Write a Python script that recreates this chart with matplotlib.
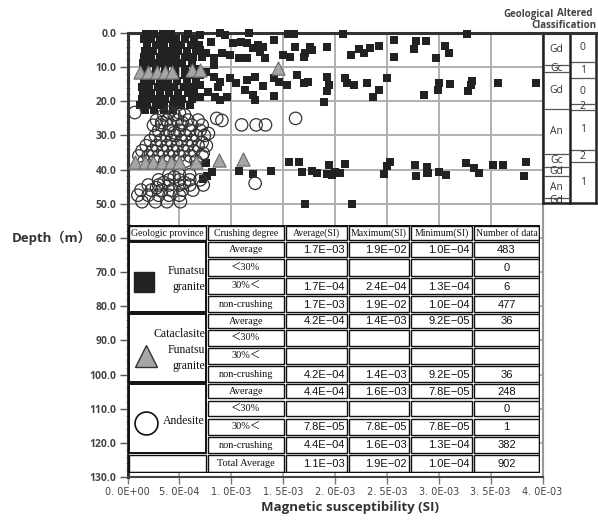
import numpy as np
import matplotlib.pyplot as plt
from matplotlib.patches import Rectangle
from matplotlib.ticker import MultipleLocator

# ---- scatter data (x in 1e-3 SI, depth in m) ----
granite = [
    # dense block near the surface
    (0.18, 0.3), (0.26, 0.3), (0.34, 0.3), (0.42, 0.3), (0.58, 0.3),
    (0.16, 1.8), (0.23, 1.8), (0.31, 1.8), (0.39, 1.8), (0.47, 1.8), (0.55, 1.8), (0.64, 1.8),
    (0.19, 3.5), (0.27, 3.5), (0.35, 3.5), (0.44, 3.5), (0.52, 3.5), (0.61, 3.5), (0.69, 3.5),
    (0.17, 5.2), (0.25, 5.2), (0.33, 5.2), (0.41, 5.2), (0.49, 5.2), (0.57, 5.2), (0.66, 5.2),
    (0.16, 7.0), (0.23, 7.0), (0.31, 7.0), (0.39, 7.0), (0.47, 7.0), (0.55, 7.0), (0.63, 7.0), (0.72, 7.0),
    (0.15, 8.8), (0.22, 8.8), (0.29, 8.8), (0.37, 8.8), (0.45, 8.8), (0.53, 8.8), (0.62, 8.8),
    (0.18, 10.5), (0.27, 10.5), (0.36, 10.5), (0.46, 10.5), (0.55, 10.5), (0.66, 10.5),
    (0.14, 12.3), (0.21, 12.3), (0.29, 12.3), (0.37, 12.3), (0.46, 12.3), (0.55, 12.3), (0.63, 12.3), (0.70, 12.3),
    (0.16, 14.0), (0.23, 14.0), (0.31, 14.0), (0.39, 14.0), (0.48, 14.0), (0.57, 14.0), (0.66, 14.0),
    (0.14, 15.8), (0.21, 15.8), (0.29, 15.8), (0.37, 15.8), (0.45, 15.8), (0.54, 15.8), (0.62, 15.8),
    (0.15, 17.5), (0.23, 17.5), (0.31, 17.5), (0.40, 17.5), (0.49, 17.5), (0.58, 17.5), (0.64, 17.5),
    (0.14, 19.3), (0.21, 19.3), (0.28, 19.3), (0.36, 19.3), (0.45, 19.3), (0.53, 19.3), (0.62, 19.3),
    (0.12, 21.0), (0.19, 21.0), (0.27, 21.0), (0.35, 21.0), (0.44, 21.0), (0.52, 21.0), (0.60, 21.0),
    (0.17, 22.5), (0.26, 22.5), (0.35, 22.5), (0.44, 22.5),
    # upper scattered part
    (0.70, 0.6), (0.80, 2.5), (0.89, 0.1), (0.94, 0.6), (1.17, 0.1), (1.02, 3.0), (1.09, 2.5),
    (1.15, 3.0), (1.21, 4.5), (1.50, 6.4), (1.15, 7.4), (1.07, 7.4), (0.99, 6.4), (0.91, 5.9),
    (0.83, 7.4), (0.83, 9.4), (0.70, 5.0), (0.76, 5.9),
    (0.76, 11.3), (0.83, 12.8), (0.89, 14.3), (0.87, 15.8), (0.99, 13.3), (1.05, 14.7), (1.15, 13.8),
    (1.13, 16.7), (1.21, 18.2), (0.84, 18.7), (0.89, 19.6), (0.96, 18.7), (0.70, 15.2), (0.70, 18.7),
    (0.78, 17.2),
    (1.55, 0.3), (1.60, 0.3), (2.08, 0.3), (1.41, 2.0), (1.26, 3.5), (1.31, 4.0), (1.28, 5.5),
    (1.33, 7.4), (1.61, 4.0), (1.57, 6.9), (1.71, 5.9), (1.76, 4.0), (1.78, 5.0), (1.70, 6.9),
    (1.92, 4.0), (2.15, 6.4), (2.23, 4.7), (2.28, 5.9), (2.34, 4.5), (2.42, 3.7), (2.57, 2.0),
    (2.57, 6.9), (1.23, 12.8), (1.31, 15.5), (1.41, 13.3), (1.46, 14.3), (1.54, 15.2), (1.63, 12.3),
    (1.70, 14.7), (1.74, 14.3), (1.92, 12.8), (1.94, 15.2), (1.92, 17.0), (1.89, 20.1), (1.41, 18.4),
    (1.23, 19.6), (2.10, 13.3), (2.12, 14.7), (2.18, 15.2), (2.31, 14.7), (2.42, 16.7), (2.37, 18.7),
    (2.50, 13.3),
    (3.27, 0.3), (2.78, 2.3), (2.88, 2.3), (2.76, 4.7), (3.06, 3.7), (3.10, 5.9), (2.97, 7.4),
    (3.00, 14.7), (2.99, 16.7), (3.11, 15.0), (3.32, 14.1), (3.31, 15.2), (3.28, 17.0), (2.86, 18.2),
    (3.57, 14.5), (3.94, 14.5),
    # around 40 m
    (0.76, 38.2), (0.77, 41.8), (0.81, 40.8), (0.73, 42.8), (1.07, 40.4), (1.21, 41.4),
    (1.56, 37.7), (1.65, 37.9), (1.38, 40.4), (1.68, 40.6), (1.78, 40.3), (1.83, 41.1), (1.92, 41.3),
    (1.94, 38.7), (1.97, 41.6), (2.00, 40.6), (2.05, 41.1), (2.10, 38.4), (1.71, 50.0), (2.16, 50.0),
    (2.47, 41.3), (2.50, 38.9), (2.53, 37.9), (2.77, 38.7), (2.78, 41.8), (2.89, 39.1), (2.89, 41.1),
    (2.90, 41.1), (3.00, 40.6), (3.07, 41.6), (3.26, 38.2), (3.34, 39.6), (3.39, 40.9), (3.52, 38.7),
    (3.62, 38.7), (3.84, 37.7), (3.82, 41.8),
]

cataclasite = [
    (0.12, 11.3), (0.20, 11.3), (0.28, 11.3), (0.36, 11.3), (0.43, 11.3), (0.62, 10.8), (0.70, 10.8),
    (1.45, 10.2),
    (0.07, 37.7), (0.17, 37.7), (0.25, 37.7), (0.33, 37.7), (0.42, 37.7), (0.50, 37.7), (0.66, 37.7),
    (0.88, 37.2), (1.11, 36.8),
]

andesite = [
    (0.07, 23.3), (0.86, 25.0), (0.91, 25.6), (1.10, 26.9), (1.24, 26.9), (1.33, 26.9), (1.62, 25.0),
    (0.35, 24.0), (0.45, 24.0), (0.55, 24.0), (0.40, 23.2), (0.50, 23.4),
    (0.28, 25.5), (0.38, 25.5), (0.48, 25.5), (0.58, 25.5), (0.68, 25.5), (0.33, 26.2), (0.53, 26.3),
    (0.25, 27.0), (0.33, 27.0), (0.42, 27.0), (0.52, 27.0), (0.62, 27.0), (0.72, 27.0),
    (0.30, 28.5), (0.40, 28.5), (0.50, 28.5), (0.60, 28.5), (0.70, 28.5), (0.45, 29.2), (0.78, 29.4),
    (0.27, 30.0), (0.37, 30.0), (0.46, 30.0), (0.56, 30.0), (0.66, 30.0), (0.74, 30.0),
    (0.22, 31.5), (0.32, 31.5), (0.42, 31.5), (0.52, 31.5), (0.62, 31.5), (0.72, 32.0),
    (0.18, 33.0), (0.28, 33.0), (0.38, 33.0), (0.48, 33.0), (0.58, 33.0), (0.68, 33.0), (0.76, 33.0),
    (0.14, 34.5), (0.24, 34.5), (0.34, 34.5), (0.44, 34.5), (0.54, 34.5), (0.64, 34.5), (0.73, 35.2),
    (0.11, 36.0), (0.20, 36.0), (0.30, 36.0), (0.40, 36.0), (0.50, 36.0), (0.60, 36.0), (0.72, 36.0),
    (0.16, 37.5), (0.26, 37.5), (0.36, 37.5), (0.46, 37.5), (0.56, 37.5), (0.66, 37.5),
    (0.40, 41.5), (0.50, 41.5), (0.60, 41.5), (0.45, 42.2),
    (0.30, 43.0), (0.40, 43.0), (0.50, 43.0), (0.60, 43.0), (0.70, 43.0), (0.35, 43.8), (0.55, 43.8),
    (0.20, 44.5), (0.30, 44.5), (0.40, 44.5), (0.50, 44.5), (0.60, 44.5), (0.73, 44.5), (1.23, 44.0),
    (0.13, 46.0), (0.23, 46.0), (0.33, 46.0), (0.43, 46.0), (0.53, 46.0), (0.63, 46.0), (0.28, 45.3),
    (0.10, 47.5), (0.20, 47.5), (0.30, 47.5), (0.40, 47.5), (0.50, 47.5),
    (0.14, 49.4), (0.27, 49.4), (0.38, 49.4), (0.51, 49.4),
]

x_ticks = [0.0, 0.5e-3, 1.0e-3, 1.5e-3, 2.0e-3, 2.5e-3, 3.0e-3, 3.5e-3, 4.0e-3]
x_labels = ['0. 0E+00', '5. 0E-04', '1. 0E-03', '1. 5E-03', '2. 0E-03',
            '2. 5E-03', '3. 0E-03', '3. 5E-03', '4. 0E-03']
y_ticks = list(range(0, 131, 10))

# ---- classification panel ----
geo_bounds = [0, 9.4, 11.3, 22.3, 35.5, 39.1, 41.9, 48.4, 49.9]
geo_labels = ['Gd', 'Gc', 'Gd', 'An', 'Gc', 'Gd', 'An', 'Gd']
alt_bounds = [0, 8.5, 13.2, 20.8, 22.5, 34.3, 37.8, 49.9]
alt_labels = ['0', '1', '0', '2', '1', '2', '1']

# ---- table ----
provinces = ['Funatsu\ngranite', 'Cataclasite\nFunatsu\ngranite', 'Andesite']
crushing = ['Average', '\uff1c30%', '30%\uff1c', 'non-crushing']
avg_si = [1.7e-3, None, 1.7e-4, 1.7e-3, 4.2e-4, None, None, 4.2e-4, 4.4e-4, None, 7.8e-5, 4.4e-4]
max_si = [1.9e-2, None, 2.4e-4, 1.9e-2, 1.4e-3, None, None, 1.4e-3, 1.6e-3, None, 7.8e-5, 1.6e-3]
min_si = [1.0e-4, None, 1.3e-4, 1.0e-4, 9.2e-5, None, None, 9.2e-5, 7.8e-5, None, 7.8e-5, 1.3e-4]
n_data = [483, 0, 6, 477, 36, None, None, 36, 248, 0, 1, 382]
total = [1.1e-3, 1.9e-2, 1.0e-4, 902]
headers = ['Geologic province', 'Crushing degree', 'Average(SI)', 'Maximum(SI)',
           'Minimum(SI)', 'Number of data']

W, H = 598, 521
fig = plt.figure(figsize=(W / 100, H / 100), dpi=100)


def fx(px):
    return px / W


def fy(py):
    return 1 - py / H


ax = fig.add_axes([fx(127.5), fy(477), (542.5 - 127.5) / W, (477 - 33) / H])
g = np.array(granite)
c = np.array(cataclasite)
a = np.array(andesite)
ax.scatter(g[:, 0] * 1e-3, g[:, 1], marker='s', s=40, color='#222222', lw=0, zorder=3, clip_on=False)
ax.scatter(a[:, 0] * 1e-3, a[:, 1], marker='o', s=80, facecolor='none', edgecolor='#333333',
           lw=0.9, zorder=4)
ax.scatter(c[:, 0] * 1e-3, c[:, 1], marker='^', s=90, facecolor='#a6a6a6', edgecolor='#6a6a6a',
           lw=0.8, zorder=5)

ax.set_xlim(0, 4e-3)
ax.set_ylim(130, 0)
ax.set_xticks(x_ticks)
ax.set_xticklabels(x_labels, fontsize=7, color='#444444', family='DejaVu Sans')
ax.set_yticks(y_ticks)
ax.set_yticklabels([f'{v:.1f}' for v in y_ticks], fontsize=7.5, color='#444444',
                   family='Open Sans', fontweight='bold')
ax.yaxis.set_minor_locator(MultipleLocator(2))
ax.tick_params(axis='y', which='major', length=6, width=1, color='#555555', pad=2)
ax.tick_params(axis='y', which='minor', length=3, width=0.6, direction='inout', color='#777777')
ax.tick_params(axis='x', which='major', length=5, width=1, color='#777777', pad=2)
ax.grid(color='#b0b0b0', lw=1.4)
ax.set_axisbelow(True)
for side, lw, col in [('top', 2.2, '#333333'), ('left', 2.2, '#333333'),
                      ('bottom', 1.5, '#444444'), ('right', 1.5, '#999999')]:
    ax.spines[side].set_linewidth(lw)
    ax.spines[side].set_color(col)

fig.text(fx(12), fy(238), 'Depth\uff08m\uff09', ha='left', va='center', fontsize=9.5,
         fontweight='bold', color='#333333', family=['Open Sans', 'Noto Sans CJK JP'])
fig.text(fx(350), fy(508), 'Magnetic susceptibility (SI)', ha='center', va='center',
         fontsize=9.5, fontweight='bold', color='#333333', family='Open Sans')

# classification panel
pax = fig.add_axes([fx(543), fy(477), (596 - 543) / W, (477 - 33) / H])
pax.set_xlim(0, 2)
pax.set_ylim(130, 0)
pax.axis('off')
for bounds, labels, x0 in [(geo_bounds, geo_labels, 0), (alt_bounds, alt_labels, 1)]:
    for d in bounds[1:-1]:
        pax.plot([x0 + 0.06, x0 + 0.94], [d, d], color='#555555', lw=0.9, clip_on=False)
    for lab, d0, d1 in zip(labels, bounds[:-1], bounds[1:]):
        pax.text(x0 + 0.5, (d0 + d1) / 2, lab, ha='center', va='center', fontsize=7.5,
                 color='#333333', family='Open Sans', clip_on=False)
bottom = geo_bounds[-1]
for xv in [0, 1, 2]:
    pax.plot([xv, xv], [0, bottom], color='#222222', lw=1.8, clip_on=False)
pax.plot([0, 2], [0, 0], color='#333333', lw=2.2, clip_on=False)
pax.plot([0, 2], [bottom, bottom], color='#222222', lw=1.8, clip_on=False)
fig.text(fx(528), fy(14), 'Geological', ha='center', va='center', fontsize=7,
         fontweight='bold', color='#444444', family='Open Sans')
fig.text(fx(557), fy(14), 'Altered', ha='left', va='center', fontsize=7,
         fontweight='bold', color='#444444', family='Open Sans')
fig.text(fx(596), fy(25), 'Classification', ha='right', va='center', fontsize=7,
         fontweight='bold', color='#444444', family='Open Sans')

# table
cols = [128, 207, 285, 348, 410, 473, 540]
rows = [225, 241, 258, 277, 295, 313, 329, 347, 365, 383, 399.5, 417.5, 436, 454, 473]
tax = fig.add_axes([fx(cols[0]), fy(rows[-1]), (cols[-1] - cols[0]) / W, (rows[-1] - rows[0]) / H])
tax.set_xlim(cols[0], cols[-1])
tax.set_ylim(rows[-1], rows[0])
tax.axis('off')
tax.add_patch(Rectangle((cols[0], rows[0]), cols[-1] - cols[0], rows[-1] - rows[0],
                        facecolor='white', edgecolor='none', zorder=0))


def cell(c0, c1, r0, r1, lw=1.0):
    x0, x1 = cols[c0] + 1.2, cols[c1] - 1.2
    y0, y1 = rows[r0] + 1.2, rows[r1] - 1.2
    tax.add_patch(Rectangle((x0, y0), x1 - x0, y1 - y0, fill=False, edgecolor='#111111',
                            lw=lw, zorder=2))


def fmt(v):
    if v is None:
        return ''
    return f'{v:.1E}'.replace('-', '\u2212')


serif = ['Liberation Serif', 'Noto Sans CJK JP']
for j, h in enumerate(headers):
    cell(j, j + 1, 0, 1)
    tax.text((cols[j] + cols[j + 1]) / 2, (rows[0] + rows[1]) / 2 + 0.5, h, ha='center',
             va='center', fontsize=7, family=serif, color='#111111')

for k, prov in enumerate(provinces):
    r0 = 1 + 4 * k
    cell(0, 1, r0, r0 + 4, lw=1.4)
    yc = (rows[r0] + rows[r0 + 4]) / 2 + 2
    tax.text(cols[1] - 2, yc, prov, ha='right', va='center', fontsize=8.5, family=serif,
             color='#111111', linespacing=1.45)
    for i in range(4):
        r = r0 + i
        idx = 4 * k + i
        ym = (rows[r] + rows[r + 1]) / 2 + 0.5
        for j in range(1, 6):
            cell(j, j + 1, r, r + 1)
        tax.text((cols[1] + cols[2]) / 2, ym, crushing[i], ha='center', va='center',
                 fontsize=7.5, family=serif, color='#111111')
        for j, vals in zip([2, 3, 4], [avg_si, max_si, min_si]):
            tax.text(cols[j + 1] - 3, ym, fmt(vals[idx]), ha='right', va='center',
                     fontsize=8, family='Liberation Sans', color='#111111')
        nv = '' if n_data[idx] is None else str(n_data[idx])
        tax.text((cols[5] + cols[6]) / 2, ym, nv, ha='center', va='center', fontsize=8,
                 family='Liberation Sans', color='#111111')

# total row
rt = len(rows) - 2
ym = (rows[rt] + rows[rt + 1]) / 2 + 0.5
for j in range(6):
    cell(j, j + 1, rt, rt + 1)
tax.text((cols[1] + cols[2]) / 2, ym, 'Total Average', ha='center', va='center', fontsize=7.5,
         family=serif, color='#111111')
for j, v in zip([2, 3, 4], total[:3]):
    tax.text(cols[j + 1] - 3, ym, fmt(v), ha='right', va='center', fontsize=8,
             family='Liberation Sans', color='#111111')
tax.text((cols[5] + cols[6]) / 2, ym, str(total[3]), ha='center', va='center', fontsize=8,
         family='Liberation Sans', color='#111111')
tax.add_patch(Rectangle((cols[0], rows[0]), cols[-1] - cols[0], rows[-1] - rows[0], fill=False,
                        edgecolor='#111111', lw=1.6, zorder=3))

# symbols in the table
tax.plot([143.7], [281.7], marker='s', markersize=14.4, color='#222222', zorder=3)
tax.plot([146], [356], marker='^', markersize=15.5, markerfacecolor='#a6a6a6',
         markeredgecolor='#333333', markeredgewidth=1.0, zorder=3)
tax.plot([146], [422.7], marker='o', markersize=16.5, markerfacecolor='white',
         markeredgecolor='#111111', markeredgewidth=1.2, zorder=3)

fig.savefig('out.png', dpi=100, facecolor='white')
